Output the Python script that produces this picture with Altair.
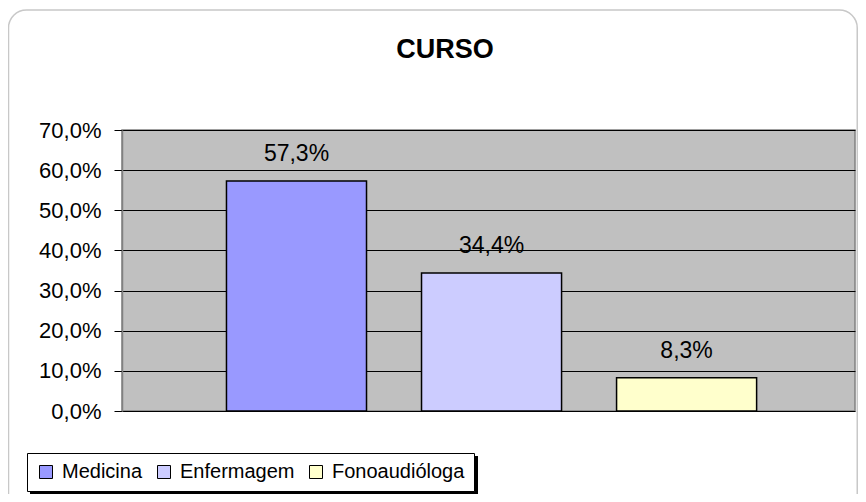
import altair as alt
import pandas as pd

# ---- data ----
cursos = ["Medicina", "Enfermagem", "Fonoaudióloga"]
valores = [0.573, 0.344, 0.083]
cores = ["#9999FF", "#CCCCFF", "#FFFFCC"]
ticks = [0.0, 0.1, 0.2, 0.3, 0.4, 0.5, 0.6, 0.7]
titulo = "CURSO"

df = pd.DataFrame({"Curso": cursos, "Valor": valores})
one = pd.DataFrame({"k": [0]})
tdf = pd.DataFrame({"t": [titulo]})

W, H = 733, 281
FONT = "Liberation Sans"
pct_expr = "replace(format({v}, '.1%'), '.', ',')"

x = alt.X("Curso:N", sort=cursos,
          scale=alt.Scale(domain=cursos, paddingInner=0.282, paddingOuter=0.52, align=0.515),
          axis=None)
yscale = alt.Scale(domain=[0, 0.7], nice=False, zero=True)
y = alt.Y("Valor:Q", scale=yscale,
          axis=alt.Axis(values=ticks, labelExpr=pct_expr.format(v="datum.value"),
                        title=None, grid=True, gridColor="black", gridWidth=1,
                        gridOpacity=1, tickColor="black", tickSize=8, tickWidth=1,
                        labelPadding=13, domainColor="#808080", domainWidth=1.5,
                        labelFont=FONT, labelFontSize=22, labelColor="black"))

border = alt.Chart(one).mark_rect(
    fill="white", fillOpacity=0, stroke="#C8C8C8", strokeWidth=1.5, cornerRadius=18
).encode(x=alt.value(-113.5), x2=alt.value(735.25), y=alt.value(-120), y2=alt.value(400))

shadow = alt.Chart(one).mark_rect(color="black").encode(
    x=alt.value(-92), x2=alt.value(356), y=alt.value(326), y2=alt.value(400))

title_mark = alt.Chart(tdf).mark_text(
    font=FONT, fontSize=27, fontWeight="bold", color="black",
    align="center", baseline="alphabetic"
).encode(x=alt.value(323), y=alt.value(-72), text="t:N")

bars = alt.Chart(df).mark_bar(stroke="black", strokeWidth=1.5, opacity=1).encode(
    x=x, y=y,
    color=alt.Color("Curso:N", sort=cursos,
                    scale=alt.Scale(domain=cursos, range=cores),
                    legend=alt.Legend(orient="none", legendX=-95, legendY=323,
                                      direction="horizontal", title=None,
                                      fillColor="white", strokeColor="black",
                                      padding=9, symbolType="square", symbolSize=169,
                                      symbolStrokeColor="black", symbolStrokeWidth=1,
                                      symbolOpacity=1,
                                      labelFont=FONT, labelFontSize=20, labelColor="black",
                                      columnPadding=11, labelOffset=6)))

labels = alt.Chart(df).transform_calculate(
    rot=pct_expr.format(v="datum.Valor")
).mark_text(baseline="alphabetic", dy=-20, font=FONT, fontSize=23, color="black").encode(
    x=x, y=alt.Y("Valor:Q", scale=yscale), text="rot:N")

chart = alt.layer(border, shadow, bars, labels, title_mark).properties(
    width=W, height=H,
    autosize=alt.AutoSizeParams(type="none"),
    padding={"left": 114, "top": 122, "right": 3, "bottom": 83},
    background="white",
).configure_view(fill="#C0C0C0", stroke="#808080", strokeWidth=1.5)

chart.save("out.html", embed_options={"renderer": "svg", "actions": False})
